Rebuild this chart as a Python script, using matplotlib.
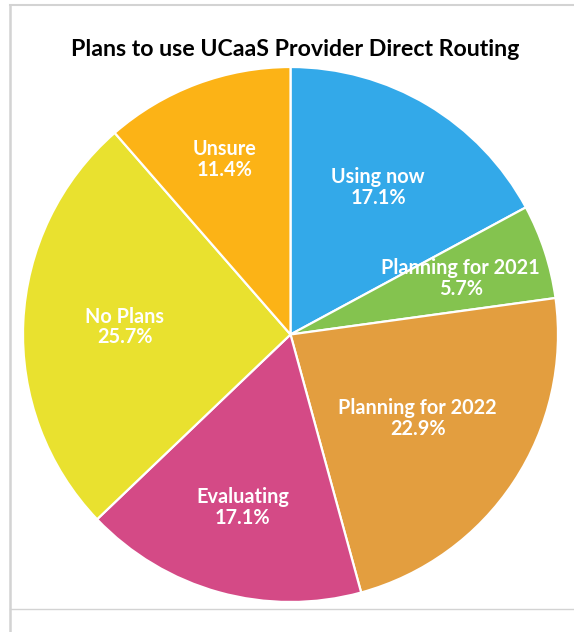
import matplotlib.pyplot as plt
import numpy as np
from matplotlib.lines import Line2D

# Survey answers, % of respondents
labels = ['Using now', 'Planning for 2021', 'Planning for 2022',
          'Evaluating', 'No Plans', 'Unsure']
shares = [17.1, 5.7, 22.9, 17.1, 25.7, 11.4]
colors = ['#33A9E9', '#84C34F', '#E39E3F', '#D44A86', '#E9E12F', '#FCB316']

# how far out each label sits (fraction of radius)
label_r = [0.64, 0.67, 0.57, 0.67, 0.62, 0.70]

plt.rcParams['font.family'] = ['Lato', 'DejaVu Sans']

fig = plt.figure(figsize=(5.74, 6.32), dpi=100)
W, H = 574, 632
# pie centre ~ (290.5, 334.5) px, radius ~ 267.5 px
ax = fig.add_axes([23 / W, (H - 602) / H, 535 / W, 535 / H])

wedges, _ = ax.pie(shares, colors=colors, startangle=90, counterclock=False,
                   wedgeprops=dict(edgecolor='white', linewidth=1.6))
ax.set_xlim(-1, 1)
ax.set_ylim(-1, 1)
ax.set_aspect('equal')

for w, lab, val, r in zip(wedges, labels, shares, label_r):
    ang = np.deg2rad((w.theta1 + w.theta2) / 2)
    ax.text(r * np.cos(ang), r * np.sin(ang), f'{lab}\n{val:.1f}%',
            ha='center', va='center', color='white', fontsize=14.3,
            fontweight='bold', linespacing=1.05)

fig.text(295 / W, 1 - 49 / H, 'Plans to use UCaaS Provider Direct Routing',
         ha='center', va='center', fontsize=16.7, fontweight='bold')

# grey frame bits around the chart
grey = '#D3D3D3'
fig.add_artist(Line2D([10 / W, 1], [1 - 5 / H] * 2, color=grey, lw=1.5))
fig.add_artist(Line2D([10 / W] * 2, [0, 1 - 5 / H], color=grey, lw=1.8))
fig.add_artist(Line2D([10 / W, 1], [1 - 609 / H] * 2, color=grey, lw=1.0))

fig.savefig('out.png', dpi=100)
